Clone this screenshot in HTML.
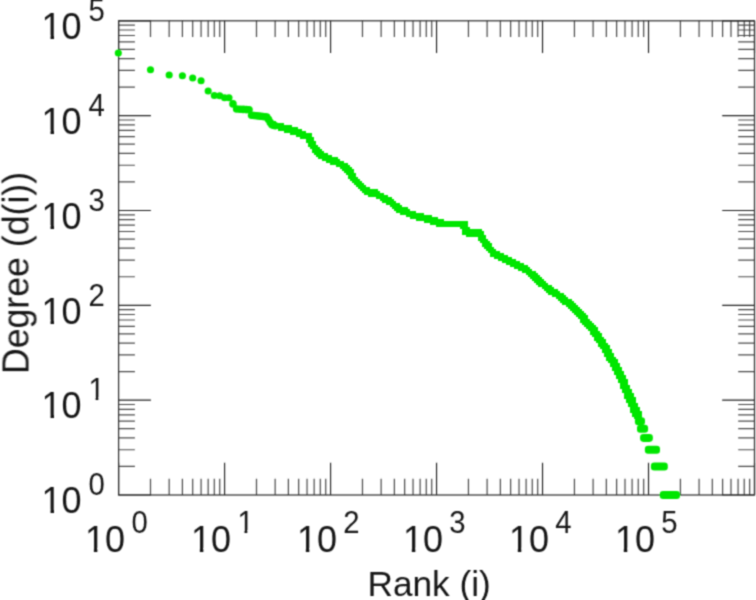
<!DOCTYPE html>
<html><head><meta charset="utf-8"><title>Degree vs Rank</title>
<style>html,body{margin:0;padding:0;background:#fff}svg{display:block}text{font-family:"Liberation Sans",Arial,Helvetica,sans-serif;fill:#151515}</style></head><body>
<svg width="756" height="600" viewBox="0 0 756 600">
<defs><filter id="soft" x="0" y="0" width="756" height="600" filterUnits="userSpaceOnUse"><feConvolveMatrix order="3" kernelMatrix="1 3 1 3 9 3 1 3 1" divisor="25" edgeMode="duplicate" preserveAlpha="false"/></filter><clipPath id="c10"><rect x="-2" y="-40" width="50" height="36.35"/><rect x="8.9" y="-3.75" width="3.5" height="4.75"/><rect x="19.6" y="-3.75" width="26" height="5.75"/></clipPath><clipPath id="c1"><rect x="-2" y="-32" width="24" height="28.9"/><rect x="7.1" y="-3.2" width="2.8" height="4.2"/></clipPath></defs>
<rect width="756" height="600" fill="#fff"/>
<g filter="url(#soft)">
<path d="M150.50 495.0v-16.3M150.50 20.8v16.3M169.17 495.0v-16.3M169.17 20.8v16.3M182.41 495.0v-16.3M182.41 20.8v16.3M192.68 495.0v-16.3M192.68 20.8v16.3M201.07 495.0v-16.3M201.07 20.8v16.3M208.17 495.0v-16.3M208.17 20.8v16.3M214.31 495.0v-16.3M214.31 20.8v16.3M219.73 495.0v-16.3M219.73 20.8v16.3M256.49 495.0v-16.3M256.49 20.8v16.3M275.15 495.0v-16.3M275.15 20.8v16.3M288.39 495.0v-16.3M288.39 20.8v16.3M298.66 495.0v-16.3M298.66 20.8v16.3M307.05 495.0v-16.3M307.05 20.8v16.3M314.15 495.0v-16.3M314.15 20.8v16.3M320.30 495.0v-16.3M320.30 20.8v16.3M325.72 495.0v-16.3M325.72 20.8v16.3M362.47 495.0v-16.3M362.47 20.8v16.3M381.13 495.0v-16.3M381.13 20.8v16.3M394.37 495.0v-16.3M394.37 20.8v16.3M404.65 495.0v-16.3M404.65 20.8v16.3M413.04 495.0v-16.3M413.04 20.8v16.3M420.13 495.0v-16.3M420.13 20.8v16.3M426.28 495.0v-16.3M426.28 20.8v16.3M431.70 495.0v-16.3M431.70 20.8v16.3M468.45 495.0v-16.3M468.45 20.8v16.3M487.12 495.0v-16.3M487.12 20.8v16.3M500.36 495.0v-16.3M500.36 20.8v16.3M510.63 495.0v-16.3M510.63 20.8v16.3M519.02 495.0v-16.3M519.02 20.8v16.3M526.12 495.0v-16.3M526.12 20.8v16.3M532.26 495.0v-16.3M532.26 20.8v16.3M537.68 495.0v-16.3M537.68 20.8v16.3M574.44 495.0v-16.3M574.44 20.8v16.3M593.10 495.0v-16.3M593.10 20.8v16.3M606.34 495.0v-16.3M606.34 20.8v16.3M616.61 495.0v-16.3M616.61 20.8v16.3M625.00 495.0v-16.3M625.00 20.8v16.3M632.10 495.0v-16.3M632.10 20.8v16.3M638.25 495.0v-16.3M638.25 20.8v16.3M643.67 495.0v-16.3M643.67 20.8v16.3M680.42 495.0v-16.3M680.42 20.8v16.3M699.08 495.0v-16.3M699.08 20.8v16.3M712.32 495.0v-16.3M712.32 20.8v16.3M722.60 495.0v-16.3M722.60 20.8v16.3M730.99 495.0v-16.3M730.99 20.8v16.3M738.08 495.0v-16.3M738.08 20.8v16.3M744.23 495.0v-16.3M744.23 20.8v16.3M749.65 495.0v-16.3M749.65 20.8v16.3M118.6 466.45h16.3M754.5 466.45h-16.3M118.6 449.75h16.3M754.5 449.75h-16.3M118.6 437.90h16.3M754.5 437.90h-16.3M118.6 428.71h16.3M754.5 428.71h-16.3M118.6 421.20h16.3M754.5 421.20h-16.3M118.6 414.85h16.3M754.5 414.85h-16.3M118.6 409.35h16.3M754.5 409.35h-16.3M118.6 404.50h16.3M754.5 404.50h-16.3M118.6 371.61h16.3M754.5 371.61h-16.3M118.6 354.91h16.3M754.5 354.91h-16.3M118.6 343.06h16.3M754.5 343.06h-16.3M118.6 333.87h16.3M754.5 333.87h-16.3M118.6 326.36h16.3M754.5 326.36h-16.3M118.6 320.01h16.3M754.5 320.01h-16.3M118.6 314.51h16.3M754.5 314.51h-16.3M118.6 309.66h16.3M754.5 309.66h-16.3M118.6 276.77h16.3M754.5 276.77h-16.3M118.6 260.07h16.3M754.5 260.07h-16.3M118.6 248.22h16.3M754.5 248.22h-16.3M118.6 239.03h16.3M754.5 239.03h-16.3M118.6 231.52h16.3M754.5 231.52h-16.3M118.6 225.17h16.3M754.5 225.17h-16.3M118.6 219.67h16.3M754.5 219.67h-16.3M118.6 214.82h16.3M754.5 214.82h-16.3M118.6 181.93h16.3M754.5 181.93h-16.3M118.6 165.23h16.3M754.5 165.23h-16.3M118.6 153.38h16.3M754.5 153.38h-16.3M118.6 144.19h16.3M754.5 144.19h-16.3M118.6 136.68h16.3M754.5 136.68h-16.3M118.6 130.33h16.3M754.5 130.33h-16.3M118.6 124.83h16.3M754.5 124.83h-16.3M118.6 119.98h16.3M754.5 119.98h-16.3M118.6 87.09h16.3M754.5 87.09h-16.3M118.6 70.39h16.3M754.5 70.39h-16.3M118.6 58.54h16.3M754.5 58.54h-16.3M118.6 49.35h16.3M754.5 49.35h-16.3M118.6 41.84h16.3M754.5 41.84h-16.3M118.6 35.49h16.3M754.5 35.49h-16.3M118.6 29.99h16.3M754.5 29.99h-16.3M118.6 25.14h16.3M754.5 25.14h-16.3" stroke="#4a4a4a" stroke-width="1.2" fill="none"/>
<path d="M118.60 495.0v-32.3M118.60 20.8v32.3M224.58 495.0v-32.3M224.58 20.8v32.3M330.57 495.0v-32.3M330.57 20.8v32.3M436.55 495.0v-32.3M436.55 20.8v32.3M542.53 495.0v-32.3M542.53 20.8v32.3M648.52 495.0v-32.3M648.52 20.8v32.3M754.50 495.0v-32.3M754.50 20.8v32.3M118.6 495.00h32.3M754.5 495.00h-32.3M118.6 400.16h32.3M754.5 400.16h-32.3M118.6 305.32h32.3M754.5 305.32h-32.3M118.6 210.48h32.3M754.5 210.48h-32.3M118.6 115.64h32.3M754.5 115.64h-32.3M118.6 20.80h32.3M754.5 20.80h-32.3" stroke="#222" stroke-width="1.15" fill="none"/>
<rect x="118.6" y="20.8" width="635.90" height="474.20" fill="none" stroke="#333" stroke-width="1.25"/>
<g fill="#00e600">
<circle cx="118.30" cy="53" r="3.55"/>
<circle cx="150.50" cy="69.75" r="3.55"/>
<circle cx="169.17" cy="75" r="3.55"/>
<circle cx="182.41" cy="75.75" r="3.55"/>
<circle cx="192.68" cy="78" r="3.55"/>
<circle cx="201.07" cy="80.75" r="3.55"/>
<circle cx="208.17" cy="91.0" r="3.55"/>
<circle cx="214.31" cy="95.5" r="3.55"/>
<circle cx="219.73" cy="95.7" r="3.55"/>
<circle cx="224.58" cy="97.8" r="3.55"/>
<circle cx="228.97" cy="97.7" r="3.55"/>
<circle cx="232.98" cy="103.9" r="3.8"/>
<circle cx="236.66" cy="109.0" r="3.8"/>
<circle cx="240.07" cy="109.2" r="3.8"/>
<circle cx="243.25" cy="109.4" r="3.8"/>
<circle cx="246.22" cy="109.6" r="3.8"/>
<circle cx="249.01" cy="109.8" r="3.8"/>
<circle cx="251.64" cy="115.2" r="3.8"/>
<circle cx="254.13" cy="115.5" r="3.8"/>
<circle cx="256.49" cy="115.8" r="3.8"/>
<circle cx="258.73" cy="116.0" r="3.8"/>
<circle cx="260.87" cy="116.2" r="3.8"/>
<circle cx="262.92" cy="116.5" r="3.8"/>
<circle cx="264.88" cy="116.7" r="3.8"/>
<circle cx="266.76" cy="117.0" r="3.8"/>
<circle cx="268.56" cy="119.5" r="3.8"/>
<circle cx="270.30" cy="122.5" r="3.8"/>
<circle cx="271.97" cy="124.7" r="3.8"/>
<circle cx="273.59" cy="125.3" r="3.8"/>
<circle cx="275.15" cy="125.8" r="3.8"/>
</g>
<path d="M274 121h2v2h-2zM272 123h12v2h-12zM272 125h20v2h-20zM272 127h26v2h-26zM278 129h24v2h-24zM284 131h22v2h-22zM290 133h22v2h-22zM296 135h16v2h-16zM300 137h14v2h-14zM306 139h8v2h-8zM306 141h10v2h-10zM308 143h8v2h-8zM308 145h10v2h-10zM310 147h10v2h-10zM312 149h10v2h-10zM312 151h12v2h-12zM314 153h14v2h-14zM316 155h16v2h-16zM318 157h20v2h-20zM322 159h18v2h-18zM326 161h18v2h-18zM330 163h18v2h-18zM336 165h14v2h-14zM340 167h12v2h-12zM342 169h12v2h-12zM344 171h10v2h-10zM346 173h10v2h-10zM348 175h8v2h-8zM348 177h10v2h-10zM350 179h10v2h-10zM352 181h10v2h-10zM354 183h10v2h-10zM356 185h10v2h-10zM358 187h12v2h-12zM360 189h18v2h-18zM362 191h18v2h-18zM364 193h20v2h-20zM368 195h20v2h-20zM376 197h16v2h-16zM380 199h14v2h-14zM382 201h14v2h-14zM386 203h14v2h-14zM390 205h12v2h-12zM392 207h16v2h-16zM394 209h16v2h-16zM396 211h20v2h-20zM400 213h24v2h-24zM406 215h26v2h-26zM410 217h28v2h-28zM416 219h28v2h-28zM424 221h44v2h-44zM430 223h38v2h-38zM436 225h32v2h-32zM460 227h10v2h-10zM462 229h20v2h-20zM462 231h22v2h-22zM462 233h22v2h-22zM466 235h20v2h-20zM478 237h8v2h-8zM478 239h10v2h-10zM480 241h10v2h-10zM482 243h10v2h-10zM482 245h10v2h-10zM484 247h10v2h-10zM486 249h10v2h-10zM488 251h12v2h-12zM490 253h14v2h-14zM490 255h18v2h-18zM494 257h18v2h-18zM498 259h18v2h-18zM502 261h18v2h-18zM506 263h18v2h-18zM510 265h18v2h-18zM514 267h16v2h-16zM518 269h14v2h-14zM522 271h14v2h-14zM526 273h12v2h-12zM528 275h12v2h-12zM530 277h12v2h-12zM532 279h12v2h-12zM534 281h12v2h-12zM536 283h12v2h-12zM538 285h14v2h-14zM542 287h12v2h-12zM544 289h14v2h-14zM546 291h14v2h-14zM548 293h16v2h-16zM552 295h14v2h-14zM556 297h12v2h-12zM558 299h14v2h-14zM560 301h14v2h-14zM562 303h14v2h-14zM566 305h12v2h-12zM568 307h12v2h-12zM570 309h12v2h-12zM572 311h12v2h-12zM574 313h12v2h-12zM576 315h12v2h-12zM578 317h10v2h-10zM580 319h10v2h-10zM580 321h12v2h-12zM582 323h12v2h-12zM584 325h12v2h-12zM586 327h12v2h-12zM588 329h10v2h-10zM590 331h10v2h-10zM590 333h12v2h-12zM592 335h10v2h-10zM594 337h10v2h-10zM594 339h12v2h-12zM596 341h10v2h-10zM598 343h10v2h-10zM598 345h12v2h-12zM600 347h10v2h-10zM602 349h10v2h-10zM602 351h10v2h-10zM604 353h10v2h-10zM604 355h10v2h-10zM606 357h10v2h-10zM606 359h12v2h-12zM608 361h10v2h-10zM610 363h10v2h-10zM610 365h10v2h-10zM612 367h10v2h-10zM612 369h10v2h-10zM614 371h10v2h-10zM614 373h10v2h-10zM616 375h10v2h-10zM616 377h10v2h-10zM618 379h10v2h-10zM618 381h10v2h-10zM620 383h8v2h-8zM620 385h10v2h-10zM620 387h10v2h-10zM622 389h10v2h-10zM622 391h10v2h-10zM624 393h10v2h-10zM624 395h10v2h-10zM624 397h12v2h-12zM626 399h10v2h-10zM626 401h10v2h-10zM628 403h10v2h-10zM628 405h10v2h-10zM630 407h10v2h-10zM630 409h10v2h-10zM630 411h12v2h-12zM632 413h10v2h-10zM632 415h10v2h-10zM634 417h8v2h-8z" fill="#00e600"/>
<g fill="#00e600"><rect x="659.80" y="491.00" width="20.20" height="8" rx="3.3"/><rect x="650.90" y="462.45" width="16.90" height="8" rx="3.3"/><rect x="644.85" y="445.75" width="15.15" height="8" rx="3.3"/><rect x="640.10" y="433.90" width="12.75" height="8" rx="3.3"/><rect x="637.00" y="424.71" width="11.10" height="8" rx="3.3"/><rect x="634.90" y="417.20" width="10.10" height="8" rx="3.3"/></g>
<text transform="translate(85.00 551.50) scale(1 1.05)" font-size="36" clip-path="url(#c10)">10</text><text transform="translate(131.40 533.30) scale(1 1.05)" font-size="29.3">0</text>
<text transform="translate(190.98 551.50) scale(1 1.05)" font-size="36" clip-path="url(#c10)">10</text><text transform="translate(237.38 533.30) scale(1 1.05)" font-size="29.3" clip-path="url(#c1)">1</text>
<text transform="translate(296.97 551.50) scale(1 1.05)" font-size="36" clip-path="url(#c10)">10</text><text transform="translate(343.37 533.30) scale(1 1.05)" font-size="29.3">2</text>
<text transform="translate(402.95 551.50) scale(1 1.05)" font-size="36" clip-path="url(#c10)">10</text><text transform="translate(449.35 533.30) scale(1 1.05)" font-size="29.3">3</text>
<text transform="translate(508.93 551.50) scale(1 1.05)" font-size="36" clip-path="url(#c10)">10</text><text transform="translate(555.33 533.30) scale(1 1.05)" font-size="29.3">4</text>
<text transform="translate(614.92 551.50) scale(1 1.05)" font-size="36" clip-path="url(#c10)">10</text><text transform="translate(661.32 533.30) scale(1 1.05)" font-size="29.3">5</text>
<text transform="translate(41.60 513.30) scale(1 1.05)" font-size="36" clip-path="url(#c10)">10</text><text transform="translate(88.50 495.20) scale(1 1.05)" font-size="29.3">0</text>
<text transform="translate(41.60 418.46) scale(1 1.05)" font-size="36" clip-path="url(#c10)">10</text><text transform="translate(88.50 400.36) scale(1 1.05)" font-size="29.3" clip-path="url(#c1)">1</text>
<text transform="translate(41.60 323.62) scale(1 1.05)" font-size="36" clip-path="url(#c10)">10</text><text transform="translate(88.50 305.52) scale(1 1.05)" font-size="29.3">2</text>
<text transform="translate(41.60 228.78) scale(1 1.05)" font-size="36" clip-path="url(#c10)">10</text><text transform="translate(88.50 210.68) scale(1 1.05)" font-size="29.3">3</text>
<text transform="translate(41.60 133.94) scale(1 1.05)" font-size="36" clip-path="url(#c10)">10</text><text transform="translate(88.50 115.84) scale(1 1.05)" font-size="29.3">4</text>
<text transform="translate(41.60 39.10) scale(1 1.05)" font-size="36" clip-path="url(#c10)">10</text><text transform="translate(88.50 21.00) scale(1 1.05)" font-size="29.3">5</text>
<text x="429.1" y="595.5" font-size="35.2" text-anchor="middle">Rank (i)</text>
<text transform="translate(28.5 273) rotate(-90) scale(1 1.03)" font-size="35.7" text-anchor="middle">Degree (d(i))</text>
</g></svg></body></html>
